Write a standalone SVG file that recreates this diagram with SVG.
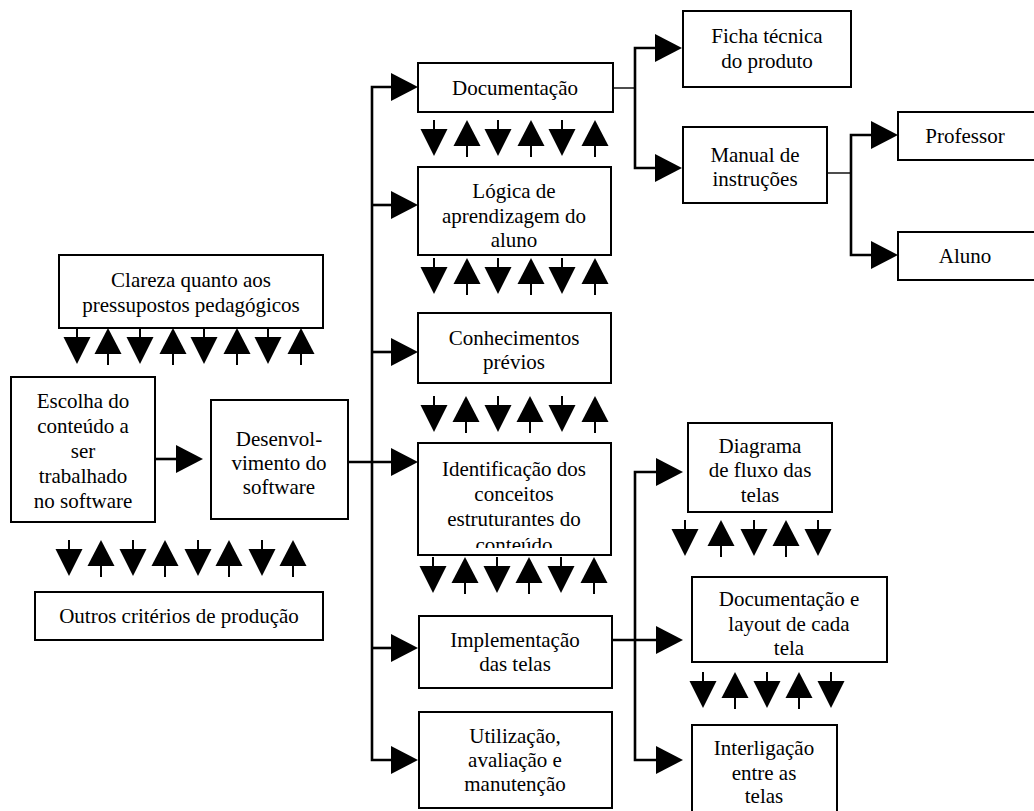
<svg xmlns="http://www.w3.org/2000/svg" width="1034" height="811" viewBox="0 0 1034 811">
  <style>
    .box { fill: #fff; stroke: #000; stroke-width: 2; }
    .lbl { font-size: 21px; fill: #000; text-anchor: middle; }
    .wire { fill: none; stroke: #000; stroke-width: 2.6; }
    .thin { fill: none; stroke: #000; stroke-width: 1.4; }
    .head { fill: #000; }
  </style>
  <defs>
    <!-- right-pointing arrowhead, tip at origin -->
    <polygon id="ah" class="head" points="0,0 -27,-14 -27,14"/>
    <!-- downward feedback arrow: short stem then head -->
    <g id="dn">
      <line x1="0" y1="0" x2="0" y2="10" stroke="#000" stroke-width="2"/>
      <polygon points="-13.5,9 13.5,9 0,36" fill="#000"/>
    </g>
    <!-- upward feedback arrow: head then short stem -->
    <g id="up">
      <polygon points="0,0 13.5,26 -13.5,26" fill="#000"/>
      <line x1="0" y1="25" x2="0" y2="37" stroke="#000" stroke-width="2"/>
    </g>
    <clipPath id="clipIdent">
      <rect x="419" y="444" width="191" height="104"/>
    </clipPath>
  </defs>

  <rect width="1034" height="811" fill="#fff"/>

  <!-- connectors -->
  <g id="connectors">
    <!-- Escolha -> Desenvolvimento -->
    <line class="wire" x1="155" y1="459" x2="180" y2="459"/>
    <use href="#ah" x="203" y="459"/>

    <!-- Desenvolvimento -> main spine -->
    <line class="wire" x1="348" y1="462" x2="395" y2="462"/>
    <polyline class="wire" points="395,87 372,87 372,760 395,760"/>
    <line class="wire" x1="372" y1="205" x2="395" y2="205"/>
    <line class="wire" x1="372" y1="352" x2="395" y2="352"/>
    <line class="wire" x1="372" y1="648" x2="395" y2="648"/>
    <use href="#ah" x="418" y="87"/>
    <use href="#ah" x="418" y="205"/>
    <use href="#ah" x="418" y="352"/>
    <use href="#ah" x="418" y="462"/>
    <use href="#ah" x="418" y="648"/>
    <use href="#ah" x="418" y="760"/>

    <!-- Documentação branch -->
    <line class="thin" x1="613" y1="88" x2="635" y2="88"/>
    <polyline class="wire" points="658,48 635,48 635,168 658,168"/>
    <use href="#ah" x="682" y="48"/>
    <use href="#ah" x="682" y="168"/>

    <!-- Manual de instruções branch -->
    <line class="thin" x1="827" y1="173" x2="851" y2="173"/>
    <polyline class="wire" points="874,135 851,135 851,255 874,255"/>
    <use href="#ah" x="898" y="135"/>
    <use href="#ah" x="898" y="255"/>

    <!-- Implementação das telas branch -->
    <line class="wire" x1="612" y1="640" x2="660" y2="640"/>
    <polyline class="wire" points="660,472 635,472 635,760 660,760"/>
    <use href="#ah" x="683" y="472"/>
    <use href="#ah" x="683" y="640"/>
    <use href="#ah" x="683" y="760"/>

    <!-- two-way influence rows -->
    <g id="row-clareza">
      <use href="#dn" x="77" y="328"/><use href="#up" x="108" y="328"/>
      <use href="#dn" x="140" y="328"/><use href="#up" x="173" y="328"/>
      <use href="#dn" x="204" y="328"/><use href="#up" x="237" y="328"/>
      <use href="#dn" x="268" y="328"/><use href="#up" x="301" y="328"/>
    </g>
    <g id="row-outros">
      <use href="#dn" x="69" y="540"/><use href="#up" x="101" y="540"/>
      <use href="#dn" x="133" y="540"/><use href="#up" x="165" y="540"/>
      <use href="#dn" x="198" y="540"/><use href="#up" x="229" y="540"/>
      <use href="#dn" x="262" y="540"/><use href="#up" x="293" y="540"/>
    </g>
    <g id="row-doc">
      <use href="#dn" x="434" y="120"/><use href="#up" x="467" y="120"/>
      <use href="#dn" x="498" y="120"/><use href="#up" x="531" y="120"/>
      <use href="#dn" x="562" y="120"/><use href="#up" x="595" y="120"/>
    </g>
    <g id="row-logica">
      <use href="#dn" x="434" y="258"/><use href="#up" x="467" y="258"/>
      <use href="#dn" x="498" y="258"/><use href="#up" x="531" y="258"/>
      <use href="#dn" x="562" y="258"/><use href="#up" x="595" y="258"/>
    </g>
    <g id="row-conhec">
      <use href="#dn" x="434" y="396"/><use href="#up" x="466" y="396"/>
      <use href="#dn" x="498" y="396"/><use href="#up" x="530" y="396"/>
      <use href="#dn" x="562" y="396"/><use href="#up" x="595" y="396"/>
    </g>
    <g id="row-ident">
      <use href="#dn" x="433" y="557"/><use href="#up" x="465" y="557"/>
      <use href="#dn" x="497" y="557"/><use href="#up" x="529" y="557"/>
      <use href="#dn" x="561" y="557"/><use href="#up" x="594" y="557"/>
    </g>
    <g id="row-diagrama">
      <use href="#dn" x="685" y="520"/><use href="#up" x="721" y="520"/>
      <use href="#dn" x="754" y="520"/><use href="#up" x="786" y="520"/>
      <use href="#dn" x="818" y="520"/>
    </g>
    <g id="row-layout">
      <use href="#dn" x="703" y="672"/><use href="#up" x="735" y="672"/>
      <use href="#dn" x="767" y="672"/><use href="#up" x="799" y="672"/>
      <use href="#dn" x="831" y="672"/>
    </g>
  </g>

  <!-- nodes -->
  <g id="nodes" font-family="'Times New Roman', 'Liberation Serif', 'DejaVu Serif', serif">
  <g id="clareza">
    <rect class="box" x="59" y="255" width="264" height="73"/>
    <text class="lbl" x="191" y="287">Clareza quanto aos</text>
    <text class="lbl" x="191" y="312">pressupostos pedagógicos</text>
  </g>
  <g id="escolha">
    <rect class="box" x="11" y="377" width="144" height="145"/>
    <text class="lbl" x="83" y="408">Escolha do</text>
    <text class="lbl" x="83" y="433">conteúdo a</text>
    <text class="lbl" x="83" y="458">ser</text>
    <text class="lbl" x="83" y="483">trabalhado</text>
    <text class="lbl" x="83" y="508">no software</text>
  </g>
  <g id="desenvolvimento">
    <rect class="box" x="211" y="400" width="137" height="119"/>
    <text class="lbl" x="279" y="446">Desenvol-</text>
    <text class="lbl" x="279" y="470">vimento do</text>
    <text class="lbl" x="279" y="494">software</text>
  </g>
  <g id="outros">
    <rect class="box" x="35" y="592" width="288" height="48"/>
    <text class="lbl" x="179" y="623">Outros critérios de produção</text>
  </g>
  <g id="documentacao">
    <rect class="box" x="418" y="63" width="195" height="49"/>
    <text class="lbl" x="515" y="95">Documentação</text>
  </g>
  <g id="logica">
    <rect class="box" x="418" y="167" width="193" height="88"/>
    <text class="lbl" x="514" y="198">Lógica de</text>
    <text class="lbl" x="514" y="223">aprendizagem do</text>
    <text class="lbl" x="514" y="247">aluno</text>
  </g>
  <g id="conhecimentos">
    <rect class="box" x="418" y="313" width="193" height="70"/>
    <text class="lbl" x="514" y="345">Conhecimentos</text>
    <text class="lbl" x="514" y="369">prévios</text>
  </g>
  <g id="identificacao">
    <rect class="box" x="418" y="443" width="193" height="112"/>
    <g clip-path="url(#clipIdent)">
      <text class="lbl" x="514" y="476">Identificação dos</text>
      <text class="lbl" x="514" y="501">conceitos</text>
      <text class="lbl" x="514" y="526">estruturantes do</text>
      <text class="lbl" x="514" y="552">conteúdo</text>
    </g>
  </g>
  <g id="implementacao">
    <rect class="box" x="419" y="616" width="193" height="72"/>
    <text class="lbl" x="515" y="647">Implementação</text>
    <text class="lbl" x="515" y="671">das telas</text>
  </g>
  <g id="utilizacao">
    <rect class="box" x="419" y="712" width="193" height="96"/>
    <text class="lbl" x="515" y="743">Utilização,</text>
    <text class="lbl" x="515" y="767">avaliação e</text>
    <text class="lbl" x="515" y="791">manutenção</text>
  </g>
  <g id="ficha">
    <rect class="box" x="683" y="11" width="168" height="76"/>
    <text class="lbl" x="767" y="43">Ficha técnica</text>
    <text class="lbl" x="767" y="68">do produto</text>
  </g>
  <g id="manual">
    <rect class="box" x="683" y="127" width="144" height="76"/>
    <text class="lbl" x="755" y="162">Manual de</text>
    <text class="lbl" x="755" y="186">instruções</text>
  </g>
  <g id="professor">
    <rect class="box" x="898" y="112" width="150" height="48"/>
    <text class="lbl" x="965" y="143">Professor</text>
  </g>
  <g id="aluno">
    <rect class="box" x="898" y="232" width="150" height="48"/>
    <text class="lbl" x="965" y="263">Aluno</text>
  </g>
  <g id="diagrama">
    <rect class="box" x="688" y="423" width="144" height="89"/>
    <text class="lbl" x="760" y="453">Diagrama</text>
    <text class="lbl" x="760" y="477">de fluxo das</text>
    <text class="lbl" x="760" y="502">telas</text>
  </g>
  <g id="layout">
    <rect class="box" x="692" y="577" width="195" height="85"/>
    <text class="lbl" x="789" y="606">Documentação e</text>
    <text class="lbl" x="789" y="631">layout de cada</text>
    <text class="lbl" x="789" y="655">tela</text>
  </g>
  <g id="interligacao">
    <rect class="box" x="692" y="725" width="145" height="100"/>
    <text class="lbl" x="764" y="755">Interligação</text>
    <text class="lbl" x="764" y="780">entre as</text>
    <text class="lbl" x="764" y="803">telas</text>
  </g>
  </g>
</svg>
